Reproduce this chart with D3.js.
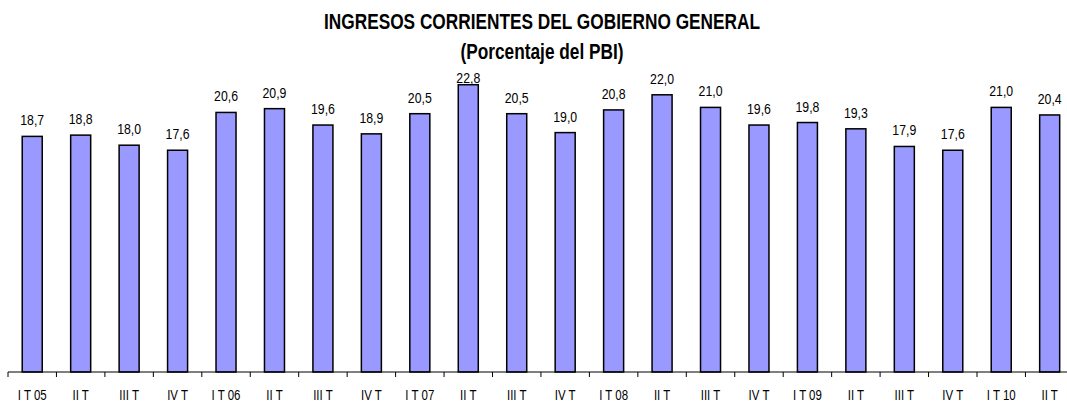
<!DOCTYPE html>
<html>
<head>
<meta charset="utf-8">
<script src="https://cdn.jsdelivr.net/npm/d3@7"></script>
<style>
  body { margin: 0; background: #fff; }
  text { font-family: "Liberation Sans", Arial, sans-serif; }
</style>
</head>
<body>
<svg id="chart" width="1067" height="403"></svg>
<script>
const categories = ['I T 05', 'II T', 'III T', 'IV T', 'I T 06', 'II T', 'III T', 'IV T',
  'I T 07', 'II T', 'III T', 'IV T', 'I T 08', 'II T', 'III T', 'IV T',
  'I T 09', 'II T', 'III T', 'IV T', 'I T 10', 'II T'];
const values = [18.7, 18.8, 18.0, 17.6, 20.6, 20.9, 19.6, 18.9, 20.5, 22.8, 20.5, 19.0,
  20.8, 22.0, 21.0, 19.6, 19.8, 19.3, 17.9, 17.6, 21.0, 20.4];
const titleLines = ['INGRESOS CORRIENTES DEL GOBIERNO GENERAL', '(Porcentaje del PBI)'];

// no Arial Narrow installed, squeeze the glyphs instead
const svg = d3.select('#chart');
const keys = categories.map((c, i) => i);

const x = d3.scaleBand()
    .domain(keys)
    .range([8, 8 + 22 * 48.45])
    .paddingInner(0.587)
    .paddingOuter(0.2935);

const y = d3.scaleLinear().domain([0, 25]).range([372, 57]);

function place(px, py, sx) {
  return `translate(${px},${py}) scale(${sx || 0.82},1)`;
}

// title
svg.selectAll('.title')
  .data(titleLines)
  .enter().append('text')
    .attr('class', 'title')
    .attr('transform', (d, i) => place(542, 29 + i * 30, 0.785))
    .attr('text-anchor', 'middle')
    .attr('font-size', 22)
    .attr('font-weight', 'bold')
    .text(d => d);

// bars
svg.selectAll('.bar')
  .data(values)
  .enter().append('rect')
    .attr('class', 'bar')
    .attr('x', (d, i) => x(i))
    .attr('y', d => y(d))
    .attr('width', x.bandwidth())
    .attr('height', d => y(0) - y(d))
    .attr('fill', '#9999ff')
    .attr('stroke', '#000')
    .attr('stroke-width', 1.5);

// value labels
svg.selectAll('.lbl')
  .data(values)
  .enter().append('text')
    .attr('class', 'lbl')
    .attr('transform', (d, i) => place(x(i) + x.bandwidth() / 2, Math.max(y(d) - 11, 83)))
    .attr('text-anchor', 'middle')
    .attr('font-size', 15)
    .text(d => d.toFixed(1).replace('.', ','));

// axis
const axis = svg.append('g').attr('transform', `translate(0,${y(0)})`);
axis.append('line')
    .attr('x1', x.range()[0]).attr('x2', x.range()[1])
    .attr('stroke', '#000').attr('stroke-width', 1);
const step = x.step();
axis.selectAll('.tick')
  .data(d3.range(categories.length + 1))
  .enter().append('line')
    .attr('x1', i => x.range()[0] + i * step)
    .attr('x2', i => x.range()[0] + i * step)
    .attr('y1', 0).attr('y2', 5)
    .attr('stroke', '#000');
axis.selectAll('.cat')
  .data(categories)
  .enter().append('text')
    .attr('transform', (d, i) => place(x(i) + x.bandwidth() / 2, 28))
    .attr('text-anchor', 'middle')
    .attr('font-size', 14)
    .text(d => d);
</script>
</body>
</html>
